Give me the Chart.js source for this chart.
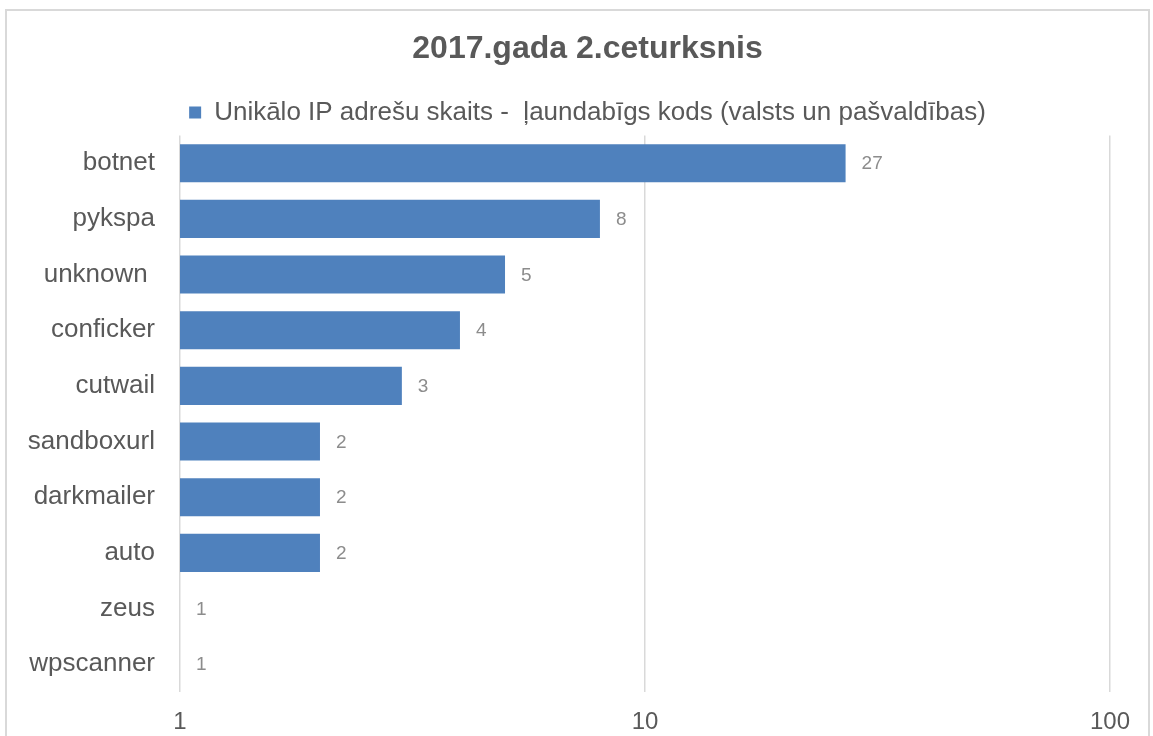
<!DOCTYPE html>
<html>
<head>
<meta charset="utf-8">
<script src="https://cdn.jsdelivr.net/npm/chart.js@4/dist/chart.umd.min.js"></script>
<style>
	body{margin:0;background:#fff;overflow:hidden;}
	#frame{position:absolute;left:5px;top:9px;width:1141px;height:800px;border:2px solid #d9d9d9;}
	#chart{position:absolute;left:0;top:0;}
</style>
</head>
<body>
<div id="frame"></div>
<canvas id="chart" width="1175" height="736"></canvas>
<script>
// dati
var categories = ['botnet', 'pykspa', 'unknown ', 'conficker', 'cutwail', 'sandboxurl', 'darkmailer', 'auto', 'zeus', 'wpscanner'];
var values = [27, 8, 5, 4, 3, 2, 2, 2, 1, 1];
var tickValues = [1, 10, 100];
var seriesName = 'Unikālo IP adrešu skaits -  ļaundabīgs kods (valsts un pašvaldības)';
var titleText = '2017.gada 2.ceturksnis';

var FONT = "'Liberation Sans', Arial, sans-serif";

// vertibas pie stabiņu galiem
var valueLabels = {
	id: 'valueLabels',
	afterDatasetsDraw: function(chart){
		var ctx = chart.ctx;
		var meta = chart.getDatasetMeta(0);
		ctx.save();
		ctx.font = '19px ' + FONT;
		ctx.fillStyle = '#8c8c8c';
		ctx.textAlign = 'left';
		ctx.textBaseline = 'middle';
		for(var i = 0; i < meta.data.length; i++){
			var bar = meta.data[i];
			ctx.fillText(String(values[i]), bar.x + 16, bar.y + 1);
		}
		ctx.restore();
	}
};

var ctx = document.getElementById('chart').getContext('2d');
var myChart = new Chart(ctx, {
	type: 'bar',
	data: {
		labels: categories,
		datasets: [{
			label: seriesName,
			data: values,
			backgroundColor: '#4f81bd',
			borderWidth: 0,
			categoryPercentage: 1,
			barPercentage: 0.685
		}]
	},
	options: {
		indexAxis: 'y',
		responsive: false,
		animation: false,
		devicePixelRatio: 1,
		layout: {padding: 0},
		plugins: {
			title: {
				display: true,
				text: titleText,
				color: '#595959',
				font: {family: FONT, size: 32, weight: 'bold'},
				padding: {top: 30, bottom: 22}
			},
			legend: {
				display: true,
				labels: {
					color: '#595959',
					font: {family: FONT, size: 26},
					boxWidth: 12,
					boxHeight: 12,
					padding: 9
				}
			},
			tooltip: {enabled: false}
		},
		scales: {
			x: {
				type: 'logarithmic',
				min: 1,
				max: 100,
				afterBuildTicks: function(scale){
					scale.ticks = tickValues.map(function(v){ return {value: v}; });
				},
				afterFit: function(scale){ scale.height = 44; },
				ticks: {
					color: '#595959',
					font: {family: FONT, size: 24},
					padding: 16,
					callback: function(v){ return String(v); }
				},
				grid: {color: '#d9d9d9', lineWidth: 1.5, drawTicks: false},
				border: {display: false}
			},
			y: {
				afterFit: function(scale){ scale.width = 180; },
				ticks: {
					color: '#595959',
					font: {family: FONT, size: 26},
					padding: 25
				},
				grid: {display: false, drawTicks: false},
				border: {display: false}
			},
			// tukša vieta labajā pusē
			yRight: {
				type: 'category',
				position: 'right',
				labels: categories,
				afterFit: function(scale){ scale.width = 65; },
				ticks: {display: false},
				grid: {display: false, drawTicks: false},
				border: {display: false}
			}
		}
	},
	plugins: [valueLabels]
});
</script>
</body>
</html>
